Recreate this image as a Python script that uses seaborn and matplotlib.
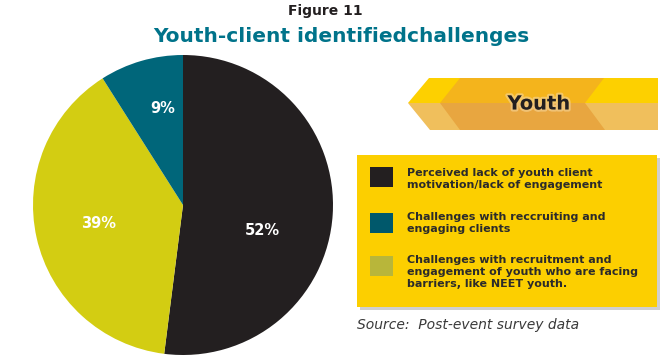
import matplotlib
matplotlib.use("Agg")
import matplotlib.pyplot as plt
import matplotlib.patheffects as pe
from matplotlib.patches import Polygon, Rectangle
import seaborn as sns

sns.set_theme(style="white")
plt.rcParams['font.family'] = ['DejaVu Sans']

# data
labels = ["Perceived lack of youth client\nmotivation/lack of engagement",
          "Challenges with recruitment and\nengagement of youth who are facing\nbarriers, like NEET youth.",
          "Challenges with reccruiting and\nengaging clients"]
values = [52, 39, 9]
pie_colors = ["#231f20", "#d3cd12", "#00667a"]
legend_order = [0, 2, 1]
legend_colors = ["#231f20", "#00586b", "#b8b63a"]

W, H = 671, 358
fig = plt.figure(figsize=(W / 100, H / 100), dpi=100)

# pie
ax = fig.add_axes([33 / W, 3 / H, 300 / W, 300 / H])
wedges, texts, autotexts = ax.pie(values, colors=pie_colors, startangle=90, counterclock=False,
                                  autopct="%d%%", pctdistance=0.6,
                                  wedgeprops=dict(linewidth=0))
for t in autotexts:
    t.set_color("white")
    t.set_fontweight("bold")
    t.set_fontsize(10.5)
# the big slice label sits a bit lower in the original
x0, y0 = autotexts[0].get_position()
autotexts[0].set_position((x0 - 0.07, y0 - 0.13))
x1, y1 = autotexts[1].get_position()
autotexts[1].set_position((x1 + 0.02, y1 + 0.01))
x2, y2 = autotexts[2].get_position()
autotexts[2].set_position((x2 + 0.03, y2 + 0.07))
ax.set_xlim(-1, 1)
ax.set_ylim(-1, 1)
ax.set_aspect("equal")

# overlay in pixel coordinates for decorations
ov2 = fig.add_axes([0, 0, 1, 1], zorder=3)
ov2.set_xlim(0, W)
ov2.set_ylim(H, 0)
ov2.axis("off")
ov2.patch.set_alpha(0)

fig.text(325 / W, 1 - 11 / H, "Figure 11", ha="center", va="center",
         fontsize=10, fontweight="bold", color="#231f20")
fig.text(341 / W, 1 - 36 / H, "Youth-client identifiedchallenges", ha="center", va="center",
         fontsize=14.5, fontweight="bold", color="#00738a")

# "Youth" banner
mid = 103
ov2.add_patch(Polygon([(408, mid), (429, 78), (658, 78), (658, mid)], closed=True,
                      facecolor="#fdd000", lw=0))
ov2.add_patch(Polygon([(408, mid), (430, 130), (658, 130), (658, mid)], closed=True,
                      facecolor="#f0bf5c", lw=0))
ov2.add_patch(Polygon([(440, mid), (460, 78), (604, 78), (585, mid)], closed=True,
                      facecolor="#f4b41c", lw=0))
ov2.add_patch(Polygon([(440, mid), (460, 130), (605, 130), (585, mid)], closed=True,
                      facecolor="#e8a640", lw=0))
ov2.text(539, mid + 1, "Youth", ha="center", va="center", fontsize=14, fontweight="bold",
         color="#231f20",
         path_effects=[pe.withStroke(linewidth=3, foreground="#f6d69a", alpha=0.6)])

# legend box
ov2.add_patch(Rectangle((360, 158), 300, 152, facecolor="#b0b0b0", lw=0, alpha=0.6))
ov2.add_patch(Rectangle((357, 155), 300, 152, facecolor="#fccf00", lw=0))
row_y = [179, 223, 272]
for k, i in enumerate(legend_order):
    ov2.add_patch(Rectangle((370, [167, 213, 256][k]), 23, 20, facecolor=legend_colors[k], lw=0))
    ov2.text(407, row_y[k], labels[i], ha="left", va="center", fontsize=8,
             fontweight="bold", color="#2b2b2b", linespacing=1.25)

ov2.text(357, 325, "Source:  Post-event survey data", ha="left", va="center",
         fontsize=10, fontstyle="italic", color="#3a3a3a")

fig.savefig("out.png", dpi=100)
